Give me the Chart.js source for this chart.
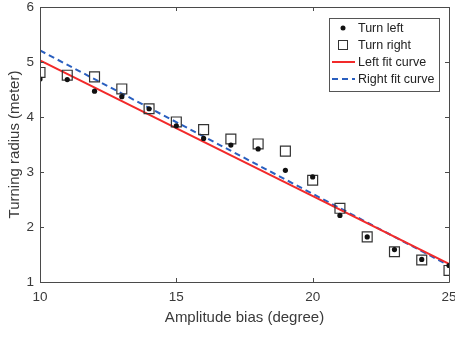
<!DOCTYPE html>
<html>
<head>
<meta charset="utf-8">
<script src="https://cdn.jsdelivr.net/npm/chart.js@4"></script>
<style>
  html, body { margin: 0; padding: 0; background: #fff; }
  #wrap { width: 455px; height: 337px; }
</style>
</head>
<body>
<div id="wrap"><canvas id="radiusChart" width="455" height="337"></canvas></div>
<script>
// amplitude bias (degree)
const bias = [10, 11, 12, 13, 14, 15, 16, 17, 18, 19, 20, 21, 22, 23, 24, 25];
// measured turning radius (meter)
const turnLeft  = [4.69, 4.68, 4.47, 4.37, 4.15, 3.84, 3.61, 3.49, 3.42, 3.03, 2.91, 2.21, 1.82, 1.59, 1.41, 1.30];
const turnRight = [4.81, 4.76, 4.73, 4.51, 4.15, 3.91, 3.77, 3.60, 3.51, 3.38, 2.85, 2.34, 1.82, 1.55, 1.40, 1.21];
// linear fits, end points only
const fitX = [10, 25];
const leftFit  = [5.03, 1.33];
const rightFit = [5.21, 1.30];

const xTicks = [10, 15, 20, 25];
const yTicks = [1, 2, 3, 4, 5, 6];

const pts = (xs, ys) => xs.map((x, i) => ({ x: x, y: ys[i] }));

const axisColor = '#4a4a4a';
const textColor = '#3a3a3a';
const fontFamily = 'Arial, "Liberation Sans", Helvetica, sans-serif';

// MATLAB style box with inward ticks on all four sides, plus tick labels
// (labels drawn here so they don't push the plot area around)
const boxTicks = {
    id: 'boxTicks',
    afterDatasetsDraw(chart) {
        const { ctx, chartArea: a, scales } = chart;
        const len = 4;
        ctx.save();
        ctx.strokeStyle = axisColor;
        ctx.lineWidth = 1;
        ctx.beginPath();
        ctx.rect(Math.round(a.left) + 0.5, Math.round(a.top) + 0.5,
                 Math.round(a.right - a.left), Math.round(a.bottom - a.top));
        scales.x.ticks.forEach(t => {
            const px = Math.round(scales.x.getPixelForValue(t.value)) + 0.5;
            ctx.moveTo(px, a.bottom); ctx.lineTo(px, a.bottom - len);
            ctx.moveTo(px, a.top); ctx.lineTo(px, a.top + len);
        });
        scales.y.ticks.forEach(t => {
            const py = Math.round(scales.y.getPixelForValue(t.value)) + 0.5;
            ctx.moveTo(a.left, py); ctx.lineTo(a.left + len, py);
            ctx.moveTo(a.right, py); ctx.lineTo(a.right - len, py);
        });
        ctx.stroke();

        ctx.fillStyle = textColor;
        ctx.font = '13.5px ' + fontFamily;
        ctx.textAlign = 'center';
        ctx.textBaseline = 'top';
        scales.x.ticks.forEach(t => {
            ctx.fillText(String(t.value), scales.x.getPixelForValue(t.value), a.bottom + 9);
        });
        ctx.textAlign = 'right';
        ctx.textBaseline = 'middle';
        scales.y.ticks.forEach(t => {
            ctx.fillText(String(t.value), a.left - 6, scales.y.getPixelForValue(t.value));
        });
        ctx.restore();
    }
};

// legend box in the upper right corner of the plot
const cornerLegend = {
    id: 'cornerLegend',
    afterDraw(chart) {
        const { ctx, chartArea: a } = chart;
        const sets = chart.data.datasets;
        const w = 110, rowH = 17, h = 73;
        const x0 = a.right - 10 - w, y0 = a.top + 11;
        ctx.save();
        ctx.fillStyle = '#fff';
        ctx.fillRect(x0, y0, w, h);
        ctx.strokeStyle = '#555';
        ctx.lineWidth = 1;
        ctx.strokeRect(Math.round(x0) + 0.5, Math.round(y0) + 0.5, w, h);
        ctx.font = '12.5px ' + fontFamily;
        ctx.textBaseline = 'middle';
        sets.forEach((ds, i) => {
            const cy = y0 + 10 + i * rowH;
            const sx = x0 + 14;
            if (ds.showLine) {
                ctx.strokeStyle = ds.borderColor;
                ctx.lineWidth = ds.borderWidth;
                ctx.setLineDash(ds.borderDash || []);
                ctx.beginPath();
                ctx.moveTo(x0 + 3, cy); ctx.lineTo(x0 + 26, cy);
                ctx.stroke();
                ctx.setLineDash([]);
            } else if (ds.pointStyle === 'rect') {
                ctx.strokeStyle = ds.pointBorderColor;
                ctx.lineWidth = 1;
                ctx.strokeRect(sx - 4.5, cy - 4.5, 9, 9);
            } else {
                ctx.fillStyle = ds.pointBackgroundColor;
                ctx.beginPath();
                ctx.arc(sx, cy, 2.5, 0, Math.PI * 2);
                ctx.fill();
            }
            ctx.fillStyle = '#222';
            ctx.fillText(ds.label, x0 + 29, cy + 1);
        });
        ctx.restore();
    }
};

const ctx = document.getElementById('radiusChart').getContext('2d');
new Chart(ctx, {
    type: 'scatter',
    data: {
        datasets: [
            {
                label: 'Turn left',
                data: pts(bias, turnLeft),
                pointStyle: 'circle',
                pointRadius: 2.6,
                pointBackgroundColor: '#111',
                pointBorderColor: '#111',
                pointBorderWidth: 0,
                showLine: false
            },
            {
                label: 'Turn right',
                data: pts(bias, turnRight),
                pointStyle: 'rect',
                pointRadius: 7,
                pointBackgroundColor: 'rgba(0,0,0,0)',
                pointBorderColor: '#333',
                pointBorderWidth: 1.2,
                showLine: false
            },
            {
                label: 'Left fit curve',
                data: pts(fitX, leftFit),
                showLine: true,
                borderColor: '#F22A2A',
                borderWidth: 2,
                pointRadius: 0
            },
            {
                label: 'Right fit curve',
                data: pts(fitX, rightFit),
                showLine: true,
                borderColor: '#2A5FBF',
                borderWidth: 2,
                borderDash: [6, 4],
                pointRadius: 0
            }
        ]
    },
    options: {
        responsive: false,
        animation: false,
        layout: { autoPadding: false, padding: { top: 7, right: 6, left: 0, bottom: 0 } },
        plugins: {
            legend: { display: false },
            tooltip: { enabled: false }
        },
        scales: {
            x: {
                type: 'linear',
                min: 10, max: 25,
                afterBuildTicks: s => { s.ticks = xTicks.map(v => ({ value: v })); },
                afterFit: s => { s.height = 55; },
                grid: { display: false, drawTicks: false },
                border: { display: false },
                ticks: { display: false },
                title: {
                    display: true,
                    text: 'Amplitude bias (degree)',
                    color: textColor,
                    font: { family: fontFamily, size: 15 },
                    padding: { top: 0, bottom: 10 }
                }
            },
            y: {
                type: 'linear',
                min: 1, max: 6,
                afterBuildTicks: s => { s.ticks = yTicks.map(v => ({ value: v })); },
                afterFit: s => { s.width = 40; },
                grid: { display: false, drawTicks: false },
                border: { display: false },
                ticks: { display: false },
                title: {
                    display: true,
                    text: 'Turning radius (meter)',
                    color: textColor,
                    font: { family: fontFamily, size: 15 },
                    padding: { top: 6, bottom: 0 }
                }
            }
        }
    },
    plugins: [boxTicks, cornerLegend]
});
</script>
</body>
</html>
